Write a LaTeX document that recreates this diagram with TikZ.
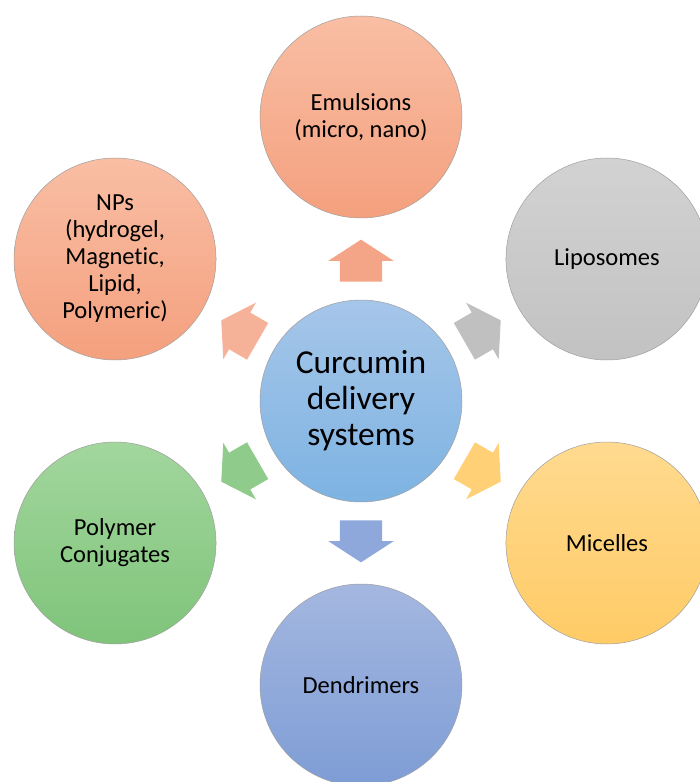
\documentclass[tikz,border=0pt]{standalone}
\usepackage{fontspec}
\setmainfont[Ligatures=NoCommon]{Carlito}
\usetikzlibrary{shapes.arrows,calc}

\definecolor{salmonT}{RGB}{249,190,164}
\definecolor{salmonB}{RGB}{244,160,126}
\definecolor{salmonA}{RGB}{245,165,135}
\definecolor{greyT}{RGB}{210,210,210}
\definecolor{greyB}{RGB}{194,194,194}
\definecolor{greyA}{RGB}{192,192,192}
\definecolor{yellT}{RGB}{255,218,143}
\definecolor{yellB}{RGB}{255,203,102}
\definecolor{yellA}{RGB}{255,208,118}
\definecolor{blueT}{RGB}{164,183,224}
\definecolor{blueB}{RGB}{126,157,213}
\definecolor{blueA}{RGB}{142,168,219}
\definecolor{greenT}{RGB}{162,214,157}
\definecolor{greenB}{RGB}{127,196,122}
\definecolor{greenA}{RGB}{143,203,138}
\definecolor{coreT}{RGB}{166,198,233}
\definecolor{coreB}{RGB}{125,179,226}

\tikzset{
  sysbub/.style={circle,draw=gray!75,line width=0.5pt,minimum size=202pt,
    inner sep=0pt,align=center,font=\fontsize{24.5}{27}\selectfont},
  blkarrow/.style={single arrow,draw=none,inner xsep=0pt,inner ysep=21pt,
    minimum height=42pt,single arrow head extend=11.5pt,single arrow tip angle=114},
}

\begin{document}
\begin{tikzpicture}[x=1pt,y=1pt]
        \useasboundingbox (-361,-381) rectangle (338,401);
        % centre
        \node[sysbub,top color=coreT,bottom color=coreB,
              font=\fontsize{33.5}{36}\selectfont] (cds) at (0,0) {Curcumin\\delivery\\systems};
        % outer ring
        \node[sysbub,top color=salmonT,bottom color=salmonB] (emul) at (90:284) {Emulsions\\(micro, nano)};
        \node[sysbub,top color=greyT,bottom color=greyB] (lipo) at (30:284) {Liposomes};
        \node[sysbub,top color=yellT,bottom color=yellB] (mic) at (-30:284) {Micelles};
        \node[sysbub,top color=blueT,bottom color=blueB] (dend) at (-90:284) {Dendrimers};
        \node[sysbub,top color=greenT,bottom color=greenB] (poly) at (-150:284) {Polymer\\Conjugates};
        \node[sysbub,top color=salmonT,bottom color=salmonB] (nps) at (150:284) {NPs\\(hydrogel,\\Magnetic,\\Lipid,\\Polymeric)};
        % block arrows
        \node[blkarrow,fill=salmonA,rotate=90] (aemul) at ($(cds)!0.47!(emul)$) {};
        \node[blkarrow,fill=greyA,rotate=30] (alipo) at ($(cds)!0.47!(lipo)$) {};
        \node[blkarrow,fill=yellA,rotate=-30] (amic) at ($(cds)!0.47!(mic)$) {};
        \node[blkarrow,fill=blueA,rotate=-90] (adend) at ($(cds)!0.47!(dend)$) {};
        \node[blkarrow,fill=greenA,rotate=-150] (apoly) at ($(cds)!0.47!(poly)$) {};
        \node[blkarrow,fill=salmonA!85!white,rotate=150] (anps) at ($(cds)!0.47!(nps)$) {};
      \end{tikzpicture}
\end{document}
